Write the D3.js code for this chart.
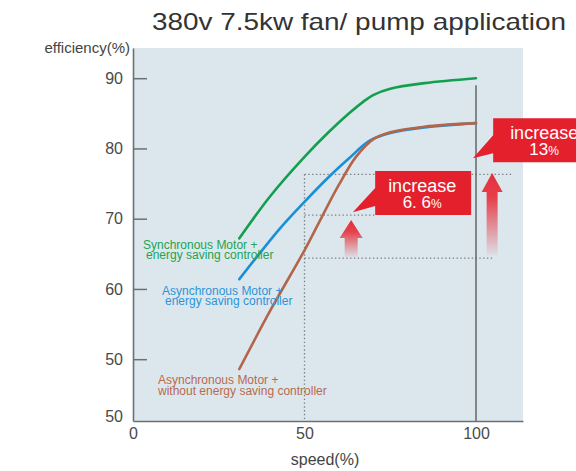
<!DOCTYPE html>
<html><head><meta charset="utf-8">
<script src="https://cdn.jsdelivr.net/npm/d3@7"></script>
<style>
html,body{margin:0;padding:0;background:#fff;}
svg{display:block;font-family:"Liberation Sans",Arial,sans-serif;}
</style></head>
<body><svg id="c" width="576" height="471"></svg>
<script>
// ---- data ----
const title = "380v 7.5kw fan/ pump application";
const yAxisTitle = "efficiency(%)";
const xAxisTitle = "speed(%)";
const xTickValues = [0, 50, 100];
const xTickLabels = ["0", "50", "100"];
const yTickValues = [41.2, 50, 60, 70, 80, 90];
const yTickLabels = ["50", "50", "60", "70", "80", "90"];

const syncSpeed = [31, 40, 50, 57, 63, 67, 70, 75, 85, 100];
const syncEff   = [67.2, 73.2, 78.8, 82.3, 85.0, 86.6, 87.6, 88.5, 89.3, 90.0];
const asyncSaveSpeed = [31, 36, 43, 50, 57, 63, 69, 75, 85, 100];
const asyncSaveEff   = [61.4, 64.5, 68.7, 72.4, 75.9, 78.6, 81.1, 82.2, 83.0, 83.6];
const asyncPlainSpeed = [31, 40, 50, 55, 60, 65, 70, 75, 85, 100];
const asyncPlainEff   = [48.6, 56.9, 65.5, 70.2, 74.8, 78.8, 81.3, 82.3, 83.1, 83.6];

const seriesNames = [
  ["Synchronous Motor +", "energy saving controller"],
  ["Asynchronous Motor +", "energy saving controller"],
  ["Asynchronous Motor +", "without energy saving controller"]
];
// reference guide lines (speed / efficiency)
const guideSpeed = 50;
const guideLevels = [76.3, 70.5, 64.4];
const guideEnds = [110.8, 70.6, 105];
const fullSpeed = 100, fullSpeedTop = 89.0;
// arrows: speed, tip efficiency, bottom efficiency
const arrowSpeed = [63.6, 104.7];
const arrowTop = [69.8, 76.5];
const arrowBottom = [64.5, 64.8];
// callouts: tip (speed, eff), box left speed, box top eff
const calloutTipSpeed = [64.1, 99.1];
const calloutTipEff = [70.9, 78.6];
const calloutBoxSpeed = [70.6, 105];
const calloutBoxEff = [76.8, 84.3];
const calloutLine1 = ["increase", "increase"];
const calloutNum = ["6. 6", "13"];

// ---- layout ----
const svg = d3.select("#c");
const x = d3.scaleLinear().domain([0, 113.7]).range([133, 523]);
const y = d3.scaleLinear().domain([41.2, 94.3]).range([421, 48]);
const colors = ["#13a04e", "#1a8fd8", "#b3654b"];
const textColors = ["#22a352", "#2a95d8", "#b86a50"];

svg.append("rect").attr("x", x(0)).attr("y", y(94.3))
  .attr("width", x(113.7) - x(0)).attr("height", y(41.2) - y(94.3))
  .attr("fill", "#dce7ed");

// title
svg.append("text").attr("x", 152).attr("y", 30).attr("font-size", 24)
  .attr("fill", "#333").attr("textLength", 414).attr("lengthAdjust", "spacingAndGlyphs").text(title);

// guide dotted lines
const dot = svg.append("g").attr("stroke", "#7a7f84").attr("stroke-width", 1.3)
  .attr("stroke-dasharray", "1.4,2.4").attr("fill", "none");
dot.append("line").attr("x1", x(guideSpeed)).attr("x2", x(guideSpeed))
  .attr("y1", y(guideLevels[0])).attr("y2", y(41.2));
guideLevels.forEach((v, i) => {
  dot.append("line").attr("x1", x(guideSpeed)).attr("x2", x(guideEnds[i]))
    .attr("y1", y(v)).attr("y2", y(v));
});
// 100% speed line
svg.append("line").attr("x1", x(fullSpeed)).attr("x2", x(fullSpeed))
  .attr("y1", y(fullSpeedTop)).attr("y2", y(41.2))
  .attr("stroke", "#5a5d60").attr("stroke-width", 1.4);

// curves
const line = d3.line().x(d => x(d[0])).y(d => y(d[1])).curve(d3.curveCatmullRom.alpha(0.5));
const series = [
  d3.zip(syncSpeed, syncEff),
  d3.zip(asyncSaveSpeed, asyncSaveEff),
  d3.zip(asyncPlainSpeed, asyncPlainEff)
];
series.forEach((s, i) => {
  svg.append("path").attr("d", line(s)).attr("fill", "none")
    .attr("stroke", colors[i]).attr("stroke-width", 2.6).attr("stroke-linecap", "round");
});

// arrows
const defs = svg.append("defs");
const grad = defs.append("linearGradient").attr("id", "ag")
  .attr("x1", 0).attr("y1", 0).attr("x2", 0).attr("y2", 1);
grad.append("stop").attr("offset", "0").attr("stop-color", "#e5303d");
grad.append("stop").attr("offset", "0.3").attr("stop-color", "#e5404b");
grad.append("stop").attr("offset", "1").attr("stop-color", "#e5404b").attr("stop-opacity", 0.05);
const headH = [18, 19], headW = [23, 21], shaftW = [13, 11];
arrowSpeed.forEach((s, i) => {
  const cx = x(s), t = y(arrowTop[i]), b = y(arrowBottom[i]);
  const hh = headH[i], hw = headW[i] / 2, sw = shaftW[i] / 2;
  const pts = [[cx, t], [cx + hw, t + hh], [cx + sw, t + hh], [cx + sw, b], [cx - sw, b], [cx - sw, t + hh], [cx - hw, t + hh]];
  svg.append("path").attr("d", "M" + pts.join("L") + "Z").attr("fill", "url(#ag)");
});

// callouts
const boxW = [96, 104], boxH = 44;
calloutTipSpeed.forEach((s, i) => {
  const bx = x(calloutBoxSpeed[i]), by = y(calloutBoxEff[i]);
  const tx = x(s), ty = y(calloutTipEff[i]);
  const g = svg.append("g");
  g.append("path").attr("d", `M${bx},${by}H${bx + boxW[i]}V${by + boxH}H${bx}V${by + 35}L${tx},${ty}L${bx},${by + 17}Z`)
    .attr("fill", "#e5202d");
  const cx = bx + boxW[i] / 2 - 1;
  g.append("text").attr("x", cx).attr("y", by + 21).attr("text-anchor", "middle")
    .attr("font-size", 18).attr("fill", "#fff").text(calloutLine1[i]);
  const t2 = g.append("text").attr("x", cx).attr("y", by + 37).attr("text-anchor", "middle")
    .attr("font-size", 17).attr("fill", "#fff");
  t2.append("tspan").text(calloutNum[i]);
  t2.append("tspan").attr("font-size", 12).text("%");
});

// axes
const yAxis = d3.axisLeft(y).tickValues(yTickValues)
  .tickFormat((d, i) => yTickLabels[i]).tickSizeInner(-14).tickSizeOuter(0).tickPadding(10);
const gy = svg.append("g").attr("transform", `translate(${x(0)},0)`).call(yAxis);
gy.selectAll(".tick line").attr("stroke", (d, i) => i === 0 ? "none" : "#6d7073").attr("stroke-width", 1.5);
gy.select(".domain").attr("stroke", "#6d7073").attr("stroke-width", 1.6);
gy.selectAll(".tick text").attr("font-size", 16).attr("fill", "#4a4a4a")
  .attr("font-family", "Liberation Sans, Arial, sans-serif")
  .attr("dy", (d, i) => i === 0 ? "0.05em" : "0.32em");

const xAxis = d3.axisBottom(x).tickValues(xTickValues)
  .tickFormat((d, i) => xTickLabels[i]).tickSize(0).tickSizeOuter(0).tickPadding(7);
const gx = svg.append("g").attr("transform", `translate(0,${y(41.2)})`).call(xAxis);
gx.select(".domain").attr("stroke", "#6d7073").attr("stroke-width", 1.6);
gx.selectAll(".tick text").attr("font-size", 16).attr("fill", "#4a4a4a")
  .attr("font-family", "Liberation Sans, Arial, sans-serif");

svg.append("text").attr("x", 130).attr("y", 53).attr("text-anchor", "end")
  .attr("font-size", 15).attr("fill", "#444").text(yAxisTitle);
svg.append("text").attr("x", 325).attr("y", 465).attr("text-anchor", "middle")
  .attr("font-size", 16).attr("fill", "#444").text(xAxisTitle);

// series labels
const labelPos = [[143, 249, 146, 259], [162, 295, 165, 305], [158, 384, 158, 395]];
seriesNames.forEach((n, i) => {
  const p = labelPos[i];
  svg.append("text").attr("x", p[0]).attr("y", p[1]).attr("font-size", 12)
    .attr("fill", textColors[i]).text(n[0]);
  svg.append("text").attr("x", p[2]).attr("y", p[3]).attr("font-size", 12)
    .attr("fill", textColors[i]).text(n[1]);
});
</script></body></html>
